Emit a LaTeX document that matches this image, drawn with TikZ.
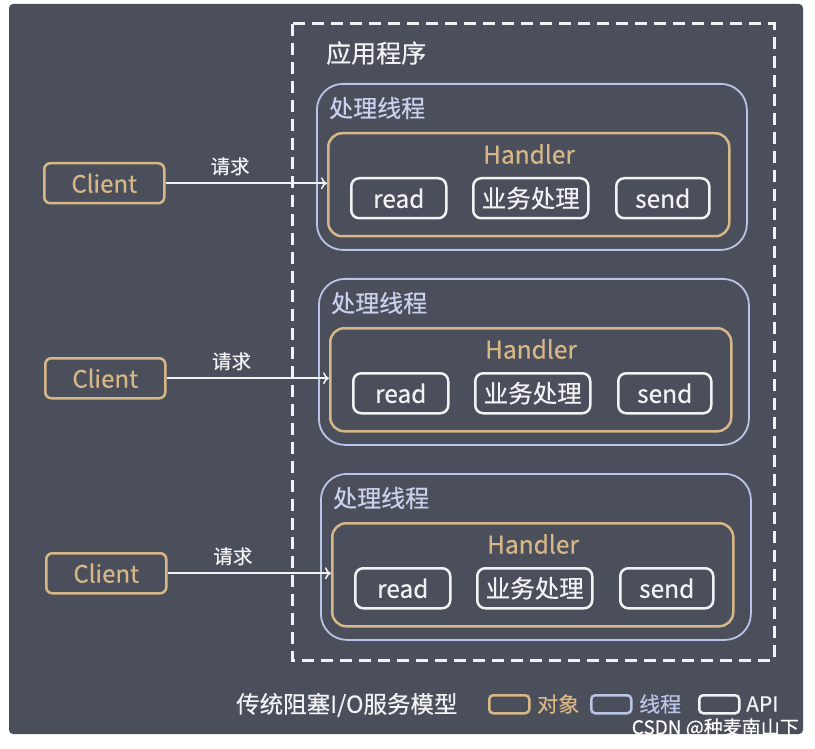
\documentclass[tikz,border=0pt]{standalone}
\usepackage{fontspec}
\newfontfamily\cjk{Noto Sans CJK SC}[FakeBold=0.4]
\usetikzlibrary{arrows.meta}
\definecolor{bg}{HTML}{4B4F5B}
\definecolor{tan}{HTML}{D8B787}
\definecolor{thr}{HTML}{B9C5E8}
\definecolor{wht}{HTML}{F2F2F4}
\definecolor{thrtext}{HTML}{C9D1EE}
\begin{document}
\begin{tikzpicture}[x=1pt,y=-1pt,
  fs/.style={font=\cjk\fontsize{#1}{#1}\selectfont},
  thrbox/.style={draw=thr, line width=1.8pt, rounded corners=26pt, inner sep=0pt, anchor=north west},
  hbox/.style={draw=tan, line width=2.5pt, rounded corners=14pt, inner sep=0pt, anchor=north west},
  apibox/.style={draw=wht, line width=2.5pt, rounded corners=8pt, inner sep=0pt, text=wht, fs=24.5, minimum height=40pt, anchor=north west},
  clientbox/.style={draw=tan, line width=2.5pt, rounded corners=6pt, inner sep=0pt, text=tan, fs=24, minimum width=120pt, minimum height=40pt, anchor=north west},
  arr/.style={draw=wht, line width=2pt, -{To[length=6pt,width=12pt,line width=1.5pt]}},
  legbox/.style={line width=2.5pt, rounded corners=4pt, inner sep=0pt, minimum width=40pt, minimum height=18pt, anchor=north west}
]
\useasboundingbox (0,0) rectangle (815,749);
\fill[white] (0,0) rectangle (815,749);
\fill[bg, rounded corners=4pt] (9,4) rectangle (803,734);

% application dashed frame
\draw[wht, line width=3pt, dash pattern=on 12pt off 7pt] (292,24) rectangle (774,660);
\node[fs=25, text=wht, anchor=west, inner sep=0pt] (app) at (326,53) {应用程序};

\foreach \i/\dx/\dy in {1/0/0, 2/2/195, 3/4/390}{
  \node[thrbox, minimum width=430pt, minimum height=166pt] (t\i) at ({316+\dx},{83+\dy}) {};
  \node[fs=24, text=thrtext, anchor=west, inner sep=0pt] (tl\i) at ({329+\dx},{108+\dy}) {处理线程};
  \node[hbox, minimum width=401pt, minimum height=103pt] (h\i) at ({327+\dx},{132+\dy}) {};
  \node[fs=24.5, text=tan, inner sep=0pt] (hl\i) at ({529+\dx},{154+\dy}) {Handler};
  \node[apibox, minimum width=95pt] (r\i) at ({350+\dx},{177+\dy}) {read};
  \node[apibox, minimum width=115pt] (b\i) at ({472+\dx},{177+\dy}) {业务处理};
  \node[apibox, minimum width=93pt] (s\i) at ({615+\dx},{177+\dy}) {send};
  \node[clientbox] (c\i) at ({43+\dx/2},{162+\dy}) {Client};
  \draw[arr] (c\i.east) -- (c\i.east -| h\i.west)
     node[pos=0.4, above=7pt, inner sep=0pt, fs=19.5, text=wht] (q\i) {请求};
}

% legend
\node[fs=23.5, text=wht, anchor=west, inner sep=0pt] (title) at (236,705) {传统阻塞I/O服务模型};
\node[legbox, draw=tan] (lo) at (488,694) {};
\node[fs=21, text=tan, anchor=west, inner sep=0pt] (lot) at (537,704) {对象};
\node[legbox, draw=thr] (lt) at (590,694) {};
\node[fs=21, text=thr, anchor=west, inner sep=0pt] (ltt) at (639,704) {线程};
\node[legbox, draw=wht] (la) at (698,694) {};
\node[fs=21, text=wht, anchor=west, inner sep=0pt] (lat) at (746,704) {API};

% watermark
\node[fs=19, text=white, anchor=east, inner sep=0pt] (wm) at (799,728) {CSDN @种麦南山下};
\end{tikzpicture}
\end{document}
